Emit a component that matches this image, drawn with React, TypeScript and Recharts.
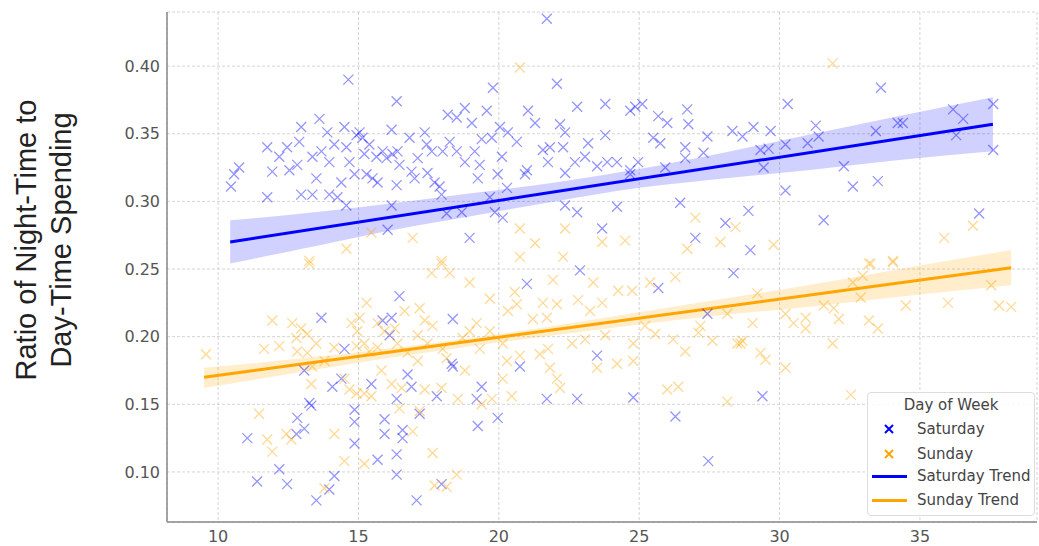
import React from "react"
import { ComposedChart, Scatter, Line, Area, XAxis, YAxis, CartesianGrid } from "recharts"

// weekend spending ratio vs. age-ish x value
const saturdayPoints: [number, number][] = [
  [14.64, 0.39], [16.36, 0.374], [18.18, 0.364], [10.46, 0.311], [10.57, 0.32], [10.75, 0.325],
  [11.75, 0.34], [11.93, 0.322], [11.75, 0.303], [12.18, 0.333], [12.46, 0.34], [12.54, 0.323],
  [12.82, 0.327], [12.89, 0.344], [12.96, 0.355], [12.96, 0.305], [13.36, 0.305], [13.36, 0.333],
  [13.5, 0.317], [13.61, 0.361], [13.68, 0.337], [13.89, 0.351], [13.96, 0.329], [13.96, 0.305],
  [14.14, 0.342], [14.25, 0.303], [14.39, 0.314], [14.5, 0.355], [14.57, 0.34], [14.57, 0.297],
  [14.68, 0.329], [14.86, 0.32], [14.93, 0.349], [15.04, 0.351], [15.14, 0.347], [15.21, 0.335],
  [15.29, 0.32], [15.39, 0.342], [15.5, 0.317], [15.64, 0.333], [15.68, 0.314], [15.86, 0.337],
  [16.0, 0.332], [16.18, 0.353], [16.18, 0.297], [16.21, 0.335], [16.36, 0.312], [16.39, 0.337],
  [16.46, 0.327], [16.82, 0.347], [16.89, 0.322], [17.0, 0.317], [17.11, 0.332], [17.36, 0.351],
  [17.43, 0.342], [17.46, 0.321], [17.61, 0.337], [17.71, 0.314], [17.89, 0.311], [17.96, 0.305],
  [18.0, 0.337], [18.14, 0.291], [18.25, 0.344], [16.04, 0.279],
  [21.71, 0.435], [22.07, 0.387], [19.79, 0.384], [18.79, 0.369], [19.57, 0.367], [18.5, 0.362],
  [19.04, 0.358], [21.04, 0.367], [21.29, 0.358], [22.79, 0.37], [23.79, 0.372], [24.68, 0.367],
  [24.86, 0.37], [25.11, 0.372], [25.68, 0.363], [26.0, 0.358], [26.71, 0.368], [26.75, 0.357],
  [28.32, 0.352], [18.5, 0.337], [18.79, 0.329], [19.14, 0.337], [19.39, 0.346], [19.32, 0.327],
  [19.25, 0.317], [19.75, 0.347], [20.04, 0.355], [20.11, 0.333], [19.96, 0.32], [20.32, 0.351],
  [20.64, 0.344], [20.29, 0.31], [21.0, 0.323], [20.93, 0.32], [21.57, 0.338], [21.82, 0.34],
  [21.75, 0.329], [22.18, 0.357], [22.36, 0.351], [22.29, 0.34], [22.36, 0.321], [22.71, 0.329],
  [23.07, 0.333], [23.18, 0.343], [23.5, 0.326], [23.79, 0.349], [23.86, 0.329], [24.21, 0.329],
  [24.68, 0.323], [24.68, 0.32], [24.96, 0.329], [25.5, 0.347], [25.75, 0.343], [25.93, 0.325],
  [26.64, 0.34], [26.64, 0.332], [27.29, 0.336], [27.43, 0.348], [19.68, 0.303], [19.86, 0.292],
  [18.68, 0.292], [20.14, 0.288], [22.36, 0.297], [22.79, 0.292], [24.21, 0.296], [26.46, 0.299],
  [18.96, 0.273], [23.68, 0.28], [27.0, 0.273], [28.07, 0.284],
  [33.61, 0.384], [30.29, 0.372], [29.07, 0.355], [28.68, 0.348], [29.68, 0.352], [31.29, 0.356],
  [31.39, 0.348], [29.32, 0.338], [29.61, 0.339], [30.21, 0.342], [31.0, 0.343], [29.43, 0.325],
  [33.43, 0.352], [34.21, 0.358], [34.39, 0.358], [36.18, 0.368], [36.54, 0.361], [36.29, 0.349],
  [37.61, 0.372], [37.61, 0.338], [32.29, 0.326], [30.21, 0.308], [32.61, 0.311], [33.5, 0.315],
  [28.89, 0.293], [31.57, 0.286], [37.11, 0.291], [28.96, 0.264],
  [16.46, 0.23], [13.68, 0.214], [15.86, 0.212], [16.18, 0.214], [16.11, 0.201], [14.5, 0.191],
  [13.07, 0.175], [14.07, 0.163], [14.39, 0.169], [15.46, 0.165], [16.75, 0.172], [16.89, 0.163],
  [16.36, 0.154], [17.79, 0.156], [18.32, 0.18], [13.25, 0.151], [13.32, 0.149], [14.86, 0.146],
  [14.86, 0.137], [12.82, 0.14], [13.07, 0.132], [12.79, 0.128], [15.93, 0.139], [15.93, 0.128],
  [16.57, 0.131], [16.57, 0.125], [17.18, 0.143], [14.86, 0.121], [11.04, 0.125], [15.68, 0.109],
  [16.36, 0.113], [12.18, 0.102], [11.39, 0.093], [12.46, 0.091], [14.14, 0.097], [13.96, 0.087],
  [13.5, 0.079], [16.36, 0.098], [17.07, 0.079], [17.96, 0.091],
  [22.89, 0.249], [21.0, 0.239], [25.68, 0.236], [28.36, 0.247], [18.36, 0.213], [27.43, 0.217],
  [18.36, 0.178], [20.75, 0.178], [23.5, 0.186], [19.39, 0.163], [19.21, 0.154], [21.71, 0.154],
  [22.79, 0.154], [24.79, 0.155], [19.96, 0.14], [19.25, 0.134], [26.29, 0.141], [27.46, 0.108],
  [29.39, 0.156],
]

const sundayPoints: [number, number][] = [
  [15.46, 0.277], [14.57, 0.265], [16.93, 0.273], [13.25, 0.256], [17.96, 0.256],
  [20.75, 0.399], [20.75, 0.28], [21.29, 0.269], [20.75, 0.259], [22.36, 0.28], [22.29, 0.259],
  [23.68, 0.27], [24.5, 0.271], [27.0, 0.288], [26.71, 0.265], [27.89, 0.27], [28.43, 0.281],
  [31.89, 0.402], [29.79, 0.268], [35.86, 0.273], [36.89, 0.282], [33.18, 0.254], [34.04, 0.256],
  [9.57, 0.187], [11.93, 0.212], [11.64, 0.191], [12.18, 0.193], [12.64, 0.21], [12.96, 0.206],
  [13.18, 0.202], [12.79, 0.199], [12.82, 0.189], [13.18, 0.188], [13.5, 0.195], [13.32, 0.165],
  [13.36, 0.178], [13.79, 0.182], [14.14, 0.192], [14.75, 0.21], [14.96, 0.204], [15.04, 0.214],
  [15.29, 0.225], [14.93, 0.193], [15.21, 0.195], [15.39, 0.189], [15.68, 0.192], [15.68, 0.21],
  [15.93, 0.204], [16.29, 0.206], [16.64, 0.219], [17.18, 0.221], [17.36, 0.212], [17.64, 0.208],
  [17.11, 0.201], [16.39, 0.195], [16.75, 0.188], [17.11, 0.182], [17.46, 0.195], [18.0, 0.191],
  [18.14, 0.184], [17.61, 0.247], [17.96, 0.254], [18.25, 0.247], [14.5, 0.169], [14.68, 0.161],
  [15.21, 0.158], [15.46, 0.156], [14.93, 0.158], [15.82, 0.175], [16.18, 0.165], [16.54, 0.162],
  [17.36, 0.161], [17.96, 0.162], [16.46, 0.147], [17.18, 0.145], [16.93, 0.13], [11.46, 0.143],
  [11.75, 0.124], [11.93, 0.115], [12.43, 0.128], [12.61, 0.124], [14.14, 0.128], [14.5, 0.108],
  [15.21, 0.106], [17.64, 0.114], [13.79, 0.088], [17.71, 0.09], [18.14, 0.089], [13.25, 0.254],
  [18.96, 0.24], [19.68, 0.228], [20.57, 0.233], [20.64, 0.224], [20.32, 0.219], [19.21, 0.21],
  [18.96, 0.204], [18.71, 0.199], [19.32, 0.191], [19.68, 0.204], [20.14, 0.195], [20.29, 0.182],
  [20.75, 0.186], [20.14, 0.169], [18.79, 0.175], [18.54, 0.154], [19.39, 0.15], [19.75, 0.154],
  [20.46, 0.156], [21.21, 0.213], [21.57, 0.225], [21.93, 0.242], [22.07, 0.224], [21.71, 0.214],
  [21.46, 0.187], [21.75, 0.191], [21.82, 0.177], [22.07, 0.169], [22.18, 0.162], [22.61, 0.195],
  [22.82, 0.227], [23.07, 0.198], [23.25, 0.219], [23.36, 0.24], [23.68, 0.225], [23.79, 0.201],
  [23.5, 0.177], [24.21, 0.18], [24.25, 0.234], [24.79, 0.195], [24.79, 0.182], [24.75, 0.234],
  [25.21, 0.208], [25.57, 0.202], [25.39, 0.24], [26.29, 0.244], [26.0, 0.161], [26.39, 0.163],
  [26.21, 0.198], [26.64, 0.189], [27.18, 0.208], [27.11, 0.203], [27.61, 0.197], [28.14, 0.217],
  [28.5, 0.195], [28.14, 0.152], [18.5, 0.098],
  [29.21, 0.232], [29.04, 0.21], [28.68, 0.197], [28.61, 0.195], [29.32, 0.188], [29.5, 0.183],
  [30.21, 0.177], [30.21, 0.217], [30.5, 0.21], [30.93, 0.214], [30.93, 0.206], [31.57, 0.223],
  [31.93, 0.221], [32.11, 0.213], [31.89, 0.195], [32.54, 0.157], [32.61, 0.24], [32.89, 0.229],
  [32.96, 0.245], [33.25, 0.254], [34.04, 0.255], [33.18, 0.212], [33.5, 0.206], [34.5, 0.223],
  [36.0, 0.225], [37.54, 0.238], [37.82, 0.223], [38.25, 0.222],
]

// fitted trend lines (end points) and confidence bands
const saturdayTrendX = [10.43, 37.6]
const saturdayTrendY = [0.27, 0.357]
const sundayTrendX = [9.5, 38.25]
const sundayTrendY = [0.17, 0.251]

const saturdayBandX = [10.43, 13, 16, 19, 22, 25, 28, 31, 34, 37.6]
const saturdayBandLo = [0.254, 0.265, 0.278, 0.289, 0.3, 0.31, 0.317, 0.323, 0.33, 0.337]
const saturdayBandHi = [0.286, 0.291, 0.298, 0.306, 0.314, 0.324, 0.336, 0.349, 0.362, 0.377]

const sundayBandX = [9.5, 13, 16, 19, 22, 25, 28, 31, 34, 38.25]
const sundayBandLo = [0.162, 0.174, 0.184, 0.193, 0.201, 0.209, 0.216, 0.222, 0.229, 0.238]
const sundayBandHi = [0.177, 0.184, 0.191, 0.199, 0.208, 0.218, 0.228, 0.238, 0.249, 0.264]

const xTicks = [10, 15, 20, 25, 30, 35]
const yTicks = [0.1, 0.15, 0.2, 0.25, 0.3, 0.35, 0.4]

const BLUE = "#0000ff"
const ORANGE = "#ffa500"
const FONT = "DejaVu Sans, sans-serif"

const toXY = (pts: [number, number][]) => pts.map(([x, y]) => ({ x, y }))
const toLine = (xs: number[], ys: number[]) => xs.map((x, i) => ({ x, y: ys[i] }))
const toBand = (xs: number[], lo: number[], hi: number[]) =>
  xs.map((x, i) => ({ x, band: [lo[i], hi[i]] }))

function crossShape(color: string) {
  return (props: any) => {
    const { cx, cy } = props
    const r = 5
    return (
      <path
        d={`M${cx - r},${cy - r}L${cx + r},${cy + r}M${cx - r},${cy + r}L${cx + r},${cy - r}`}
        stroke={color}
        strokeOpacity={0.42}
        strokeWidth={1.3}
        fill="none"
      />
    )
  }
}

function YTitle() {
  return (
    <g fill="#222" fontFamily="Liberation Sans, Arial, sans-serif" fontSize={29}>
      <text x={26} y={240} transform="rotate(-90 26 240)" textAnchor="middle" dominantBaseline="central">
        Ratio of Night-Time to
      </text>
      <text x={61} y={240} transform="rotate(-90 61 240)" textAnchor="middle" dominantBaseline="central">
        Day-Time Spending
      </text>
    </g>
  )
}

function LegendBox() {
  const row = (top: number, mark: React.ReactNode, label: string) => (
    <div style={{ position: "absolute", left: 0, top: top - 10, height: 20, width: "100%" }}>
      <div style={{ position: "absolute", left: 3, top: 0, width: 36, height: 20, display: "flex", alignItems: "center", justifyContent: "center" }}>
        {mark}
      </div>
      <div style={{ position: "absolute", left: 49, top: 0, lineHeight: "20px", whiteSpace: "nowrap" }}>{label}</div>
    </div>
  )
  const xMark = (c: string) => (
    <svg width={12} height={12}>
      <path d="M2,2L10,10M2,10L10,2" stroke={c} strokeWidth={2} />
    </svg>
  )
  const lineMark = (c: string) => <div style={{ width: 35, height: 3, background: c }} />
  return (
    <div
      style={{
        position: "absolute", left: 867, top: 392, width: 168, height: 124,
        border: "1px solid #ddd", borderRadius: 4, background: "rgba(255,255,255,0.85)",
        fontFamily: FONT, fontSize: 15, color: "#444", boxSizing: "border-box",
      }}
    >
      <div style={{ position: "absolute", left: 0, width: "100%", top: 2, textAlign: "center", lineHeight: "20px" }}>
        Day of Week
      </div>
      {row(36, xMark(BLUE), "Saturday")}
      {row(61, xMark(ORANGE), "Sunday")}
      {row(83, lineMark(BLUE), "Saturday Trend")}
      {row(107, lineMark(ORANGE), "Sunday Trend")}
    </div>
  )
}

export default function App() {
  const tick = { fill: "#555", fontSize: 16, fontFamily: FONT }
  return (
    <div style={{ position: "absolute", left: 0, top: 0, width: 1039, height: 546, background: "#fff" }}>
      <ComposedChart width={1039} height={546} margin={{ top: 12, right: 2, bottom: 0, left: 0 }}>
        <CartesianGrid strokeDasharray="3 2" stroke="#d4d4d4" />
        <XAxis
          type="number"
          dataKey="x"
          domain={[8.18, 39.17]}
          ticks={xTicks}
          allowDataOverflow
          height={24}
          tickSize={0}
          tickMargin={9}
          tick={tick}
          axisLine={{ stroke: "#888", strokeWidth: 1.5 }}
        />
        <YAxis
          type="number"
          dataKey="y"
          domain={[0.063, 0.44]}
          ticks={yTicks}
          allowDataOverflow
          width={167}
          tickSize={0}
          tickMargin={7}
          tick={tick}
          tickFormatter={(v: number) => v.toFixed(2)}
          axisLine={{ stroke: "#888", strokeWidth: 1.5 }}
          label={<YTitle />}
        />
        <Scatter name="Saturday" data={toXY(saturdayPoints)} dataKey="y" shape={crossShape(BLUE)} isAnimationActive={false} />
        <Scatter name="Sunday" data={toXY(sundayPoints)} dataKey="y" shape={crossShape(ORANGE)} isAnimationActive={false} />
        <Area
          data={toBand(saturdayBandX, saturdayBandLo, saturdayBandHi)}
          dataKey="band"
          type="monotone"
          stroke="none"
          fill={BLUE}
          fillOpacity={0.18}
          isAnimationActive={false}
        />
        <Area
          data={toBand(sundayBandX, sundayBandLo, sundayBandHi)}
          dataKey="band"
          type="monotone"
          stroke="none"
          fill={ORANGE}
          fillOpacity={0.2}
          isAnimationActive={false}
        />
        <Line data={toLine(saturdayTrendX, saturdayTrendY)} dataKey="y" stroke={BLUE} strokeWidth={3} dot={false} isAnimationActive={false} />
        <Line data={toLine(sundayTrendX, sundayTrendY)} dataKey="y" stroke={ORANGE} strokeWidth={3} dot={false} isAnimationActive={false} />
      </ComposedChart>
      <LegendBox />
    </div>
  )
}
